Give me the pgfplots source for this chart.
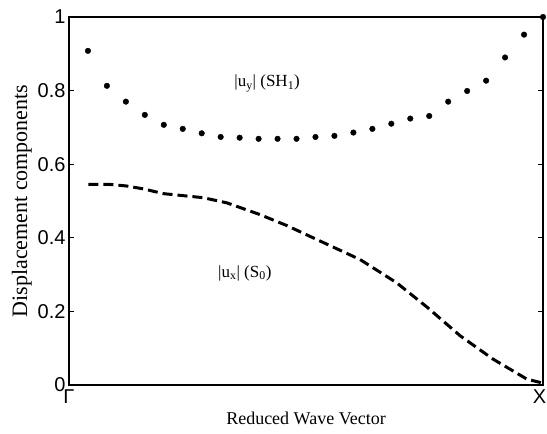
\documentclass[border=0pt]{standalone}
\usepackage{fontspec}
\setmainfont{Liberation Serif}
\newfontfamily\sansf{Liberation Sans}
\usepackage{pgfplots}
\pgfplotsset{compat=1.18}

% |u_y| (SH1) dots
\pgfplotstableread{
t v
0.04 0.908
0.08 0.813
0.12 0.770
0.16 0.734
0.20 0.707
0.24 0.696
0.28 0.684
0.32 0.674
0.36 0.672
0.40 0.669
0.44 0.669
0.48 0.669
0.52 0.674
0.56 0.677
0.60 0.686
0.64 0.696
0.68 0.710
0.72 0.724
0.76 0.731
0.80 0.770
0.84 0.799
0.88 0.827
0.92 0.890
0.96 0.952
1.00 1.000
}\uy

% |u_x| (S0) dashed
\pgfplotstableread{
t v
0.041 0.545
0.086 0.545
0.120 0.541
0.157 0.533
0.199 0.520
0.283 0.509
0.333 0.495
0.403 0.463
0.460 0.433
0.515 0.400
0.614 0.341
0.691 0.278
0.755 0.212
0.825 0.134
0.895 0.070
0.966 0.016
1.000 0.005
}\ux

\begin{document}
\begin{tikzpicture}
\path[use as bounding box] (-69pt,-49pt) rectangle (478pt,385pt);
\begin{axis}[
  scale only axis, width=474pt, height=368pt,
  xmin=0, xmax=1, ymin=0, ymax=1,
  axis line style={line width=1.6pt},
  clip=false,
  xtick={0,1}, xticklabels={Γ,{X\kern7pt}},
  x tick style={draw=none},
  ytick={0,0.2,...,1},
  y tick style={line width=1pt, black},
  major tick length=5pt,
  tick align=inside,
  /pgf/number format/assume math mode=true,
  ticklabel style={font=\sansf\fontsize{20}{20}\selectfont},
  xticklabel style={yshift=-1pt},
  xlabel={Reduced Wave Vector},
  ylabel={Displacement components},
  xlabel style={font=\fontsize{18}{18}\selectfont, yshift=-2pt},
  ylabel style={font=\fontsize{22}{22}\selectfont, yshift=-1pt},
]
\addplot[only marks, mark=*, mark size=2.8pt, black] table[x=t, y=v] {\uy};
\addplot[black, line width=3pt, dash pattern=on 10pt off 5pt] table[x=t, y=v] {\ux};
\node[font=\fontsize{17}{17}\selectfont] at (axis cs:0.418,0.82) {|u\textsubscript{y}| (SH\textsubscript{1})};
\node[font=\fontsize{17}{17}\selectfont] at (axis cs:0.371,0.304) {|u\textsubscript{x}| (S\textsubscript{0})};
\end{axis}
\end{tikzpicture}
\end{document}
